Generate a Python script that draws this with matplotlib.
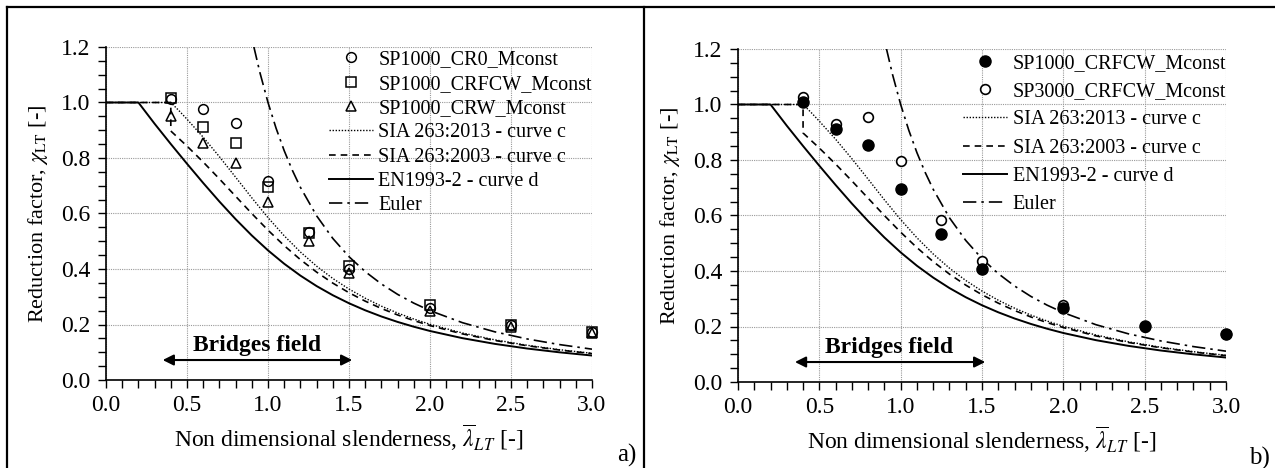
import matplotlib
matplotlib.use('Agg')
import matplotlib.pyplot as plt
from matplotlib.lines import Line2D
from matplotlib.ticker import MultipleLocator, FormatStrFormatter

plt.rcParams['font.family'] = ['Liberation Serif', 'DejaVu Serif']
plt.rcParams['mathtext.fontset'] = 'stix'

# design curves
lam_d = [0.0, 0.2, 0.3, 0.4, 0.5, 0.6, 0.7, 0.8, 0.9, 1.0, 1.1, 1.2, 1.3, 1.4, 1.5,
         1.6, 1.7, 1.8, 1.9, 2.0, 2.2, 2.4, 2.6, 2.8, 3.0]
chi_en_d = [1.0, 1.0, 0.9235, 0.8504, 0.7793, 0.7100, 0.6431, 0.5797, 0.5208, 0.4671,
            0.4189, 0.3762, 0.3385, 0.3055, 0.2766, 0.2512, 0.2289, 0.2093, 0.1920,
            0.1766, 0.1508, 0.1302, 0.1134, 0.0997, 0.0882]

lam_sia03 = [0.0, 0.4, 0.4, 0.5, 0.6, 0.7, 0.8, 0.9, 1.0, 1.1, 1.2, 1.3, 1.4, 1.5, 1.6,
             1.7, 1.8, 1.9, 2.0, 2.2, 2.4, 2.6, 2.8, 3.0]
chi_sia03 = [1.0, 1.0, 0.8973, 0.8430, 0.7854, 0.7247, 0.6622, 0.5998, 0.5399, 0.4842,
             0.4338, 0.3888, 0.3492, 0.3145, 0.2842, 0.2577, 0.2345, 0.2141, 0.1962,
             0.1662, 0.1425, 0.1234, 0.1079, 0.0951]

lam_sia13 = [0.0, 0.4, 0.45, 0.5, 0.6, 0.7, 0.8, 0.9, 1.0, 1.1, 1.2, 1.3, 1.4, 1.5, 1.6,
             1.7, 1.8, 1.9, 2.0, 2.2, 2.4, 2.6, 2.8, 3.0]
chi_sia13 = [1.0, 1.0, 0.9709, 0.9398, 0.8749, 0.8047, 0.7309, 0.6565, 0.5852, 0.5197,
             0.4613, 0.4102, 0.3659, 0.3277, 0.2947, 0.2661, 0.2413, 0.2197, 0.2008,
             0.1694, 0.1448, 0.1251, 0.1092, 0.0961]

lam_eul = [0.9129, 0.95, 1.0, 1.05, 1.1, 1.15, 1.2, 1.3, 1.4, 1.5, 1.6, 1.7, 1.8, 1.9,
           2.0, 2.2, 2.4, 2.6, 2.8, 3.0]
chi_eul = [1.2, 1.108, 1.0, 0.907, 0.8264, 0.7561, 0.6944, 0.5917, 0.5102, 0.4444,
           0.3906, 0.3460, 0.3086, 0.2770, 0.25, 0.2066, 0.1736, 0.1479, 0.1276, 0.1111]

# numerical results
lam_pts = [0.4, 0.6, 0.8, 1.0, 1.25, 1.5, 2.0, 2.5, 3.0]
sp1000_cr0 = [1.013, 0.977, 0.926, 0.717, 0.533, 0.400, 0.260, 0.198, 0.172]
sp1000_crfcw_a = [1.016, 0.912, 0.854, 0.696, 0.530, 0.410, 0.270, 0.200, 0.172]
sp1000_crw = [0.951, 0.854, 0.782, 0.641, 0.500, 0.386, 0.249, 0.190, 0.168]

sp1000_crfcw_b = [1.009, 0.912, 0.854, 0.695, 0.533, 0.407, 0.265, 0.202, 0.173]
sp3000_crfcw = [1.027, 0.930, 0.955, 0.796, 0.584, 0.436, 0.277, 0.200, 0.172]

fig = plt.figure(figsize=(12.75, 4.68), dpi=100)
W, H = 1275.0, 468.0
ax_a = fig.add_axes([106 / W, 1 - 380 / H, 486 / W, 333 / H])
ax_b = fig.add_axes([738 / W, 1 - 382 / H, 488 / W, 333 / H])


def draw_curves(ax):
    ax.plot(lam_sia13, chi_sia13, color='k', lw=1.0, ls=(0, (1, 1.2)),
            label='SIA 263:2013 - curve c', zorder=3)
    ax.plot(lam_sia03, chi_sia03, color='k', lw=1.2, ls=(0, (4, 3)),
            label='SIA 263:2003 - curve c', zorder=3)
    ax.plot(lam_d, chi_en_d, color='k', lw=1.4, ls='-',
            label='EN1993-2 - curve d', zorder=3)
    ax.plot(lam_eul, chi_eul, color='k', lw=1.2, ls=(0, (8, 3, 1.5, 3)),
            label='Euler', zorder=3)


def style_axes(ax):
    ax.set_xlim(0, 3.0)
    ax.set_ylim(0, 1.2)
    ax.xaxis.set_major_locator(MultipleLocator(0.5))
    ax.xaxis.set_minor_locator(MultipleLocator(0.1))
    ax.yaxis.set_major_locator(MultipleLocator(0.2))
    ax.yaxis.set_minor_locator(MultipleLocator(0.05))
    ax.xaxis.set_major_formatter(FormatStrFormatter('%.1f'))
    ax.yaxis.set_major_formatter(FormatStrFormatter('%.1f'))
    ax.grid(True, which='major', color='#9a9a9a', ls=(0, (1, 1)), lw=0.8)
    ax.spines['top'].set_visible(False)
    ax.spines['right'].set_visible(False)
    for s in ('left', 'bottom'):
        ax.spines[s].set_linewidth(1.2)
    ax.tick_params(which='both', direction='out', length=6, width=1.0,
                   labelsize=17, pad=5)
    ax.set_xlabel(r'Non dimensional slenderness, $\overline{\lambda}_{LT}$ [-]',
                  fontsize=17, labelpad=4)
    ax.set_ylabel(r'Reduction factor, $\chi_{\mathrm{LT}}$ [-]', fontsize=16,
                  labelpad=8)
    ax.annotate('', xy=(0.35, 0.072), xytext=(1.52, 0.072),
                arrowprops=dict(arrowstyle='<|-|>', color='k', lw=1.5,
                                mutation_scale=16, shrinkA=0, shrinkB=0))
    ax.text(0.93, 0.126, 'Bridges field', ha='center', va='center',
            fontsize=17, fontweight='bold')


# panel a
ax_a.plot(lam_pts, sp1000_cr0, ls='none', marker='o', ms=7, mfc='none', mec='k',
          mew=1.1, label='SP1000_CR0_Mconst', clip_on=False, zorder=4)
ax_a.plot(lam_pts, sp1000_crfcw_a, ls='none', marker='s', ms=6.5, mfc='none', mec='k',
          mew=1.1, label='SP1000_CRFCW_Mconst', clip_on=False, zorder=4)
ax_a.plot(lam_pts, sp1000_crw, ls='none', marker='^', ms=7.5, mfc='none', mec='k',
          mew=1.1, label='SP1000_CRW_Mconst', clip_on=False, zorder=4)
draw_curves(ax_a)
style_axes(ax_a)
ax_a.legend(loc='upper right', bbox_to_anchor=(1.0, 0.99), frameon=False,
            fontsize=14.5, labelspacing=0.26, handlelength=2.2,
            handletextpad=0.25, borderaxespad=0, borderpad=0)

# panel b
ax_b.plot(lam_pts, sp3000_crfcw, ls='none', marker='o', ms=7, mfc='white', mec='k',
          mew=1.2, clip_on=False, zorder=4)
ax_b.plot(lam_pts, sp1000_crfcw_b, ls='none', marker='o', ms=8, mfc='k', mec='k',
          clip_on=False, zorder=5)
draw_curves(ax_b)
style_axes(ax_b)
h_b, l_b = ax_b.get_legend_handles_labels()
h_pts = [Line2D([], [], ls='none', marker='o', ms=8, mfc='k', mec='k'),
         Line2D([], [], ls='none', marker='o', ms=7, mfc='white', mec='k', mew=1.2)]
l_pts = ['SP1000_CRFCW_Mconst', 'SP3000_CRFCW_Mconst']
ax_b.legend(h_pts + h_b, l_pts + l_b, loc='upper right', bbox_to_anchor=(1.0, 0.985),
            frameon=False, fontsize=14.5, labelspacing=0.45, handlelength=2.2,
            handletextpad=0.25, borderaxespad=0, borderpad=0)

fig.text(627 / W, 1 - 455 / H, 'a)', ha='center', va='center', fontsize=18)
fig.text(1259 / W, 1 - 458 / H, 'b)', ha='center', va='center', fontsize=18)

# frame around the two panels
frame = dict(color='k', lw=1.6, transform=fig.transFigure)
fig.add_artist(Line2D([7 / W, 1.0], [1 - 7 / H, 1 - 7 / H], **frame))
fig.add_artist(Line2D([7 / W, 7 / W], [0, 1 - 7 / H], **frame))
fig.add_artist(Line2D([644 / W, 644 / W], [0, 1 - 7 / H], **frame))

fig.savefig('out.png', dpi=100)
